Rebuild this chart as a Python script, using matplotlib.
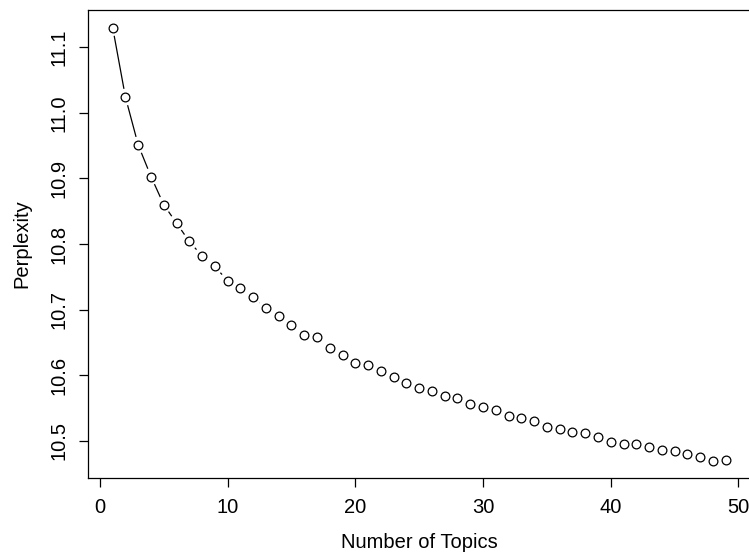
import numpy as np
import matplotlib
matplotlib.use("Agg")
import matplotlib.pyplot as plt

# Perplexity of the fitted topic models by number of topics
topics = list(range(1, 50))
perplexity = [
    11.130, 11.024, 10.951, 10.903, 10.860, 10.832, 10.804, 10.782, 10.766, 10.744,
    10.733, 10.719, 10.702, 10.691, 10.677, 10.662, 10.658, 10.642, 10.631, 10.619,
    10.616, 10.607, 10.597, 10.589, 10.581, 10.576, 10.569, 10.566, 10.557, 10.552,
    10.547, 10.538, 10.535, 10.531, 10.522, 10.518, 10.514, 10.512, 10.506, 10.499,
    10.496, 10.496, 10.491, 10.487, 10.485, 10.480, 10.476, 10.470, 10.471,
]
x_ticks = [0, 10, 20, 30, 40, 50]
y_ticks = [10.5, 10.6, 10.7, 10.8, 10.9, 11.0, 11.1]
x_label = "Number of Topics"
y_label = "Perplexity"

plt.rcParams["font.family"] = ["Liberation Sans", "DejaVu Sans"]
FS = 14.5

W, H, DPI = 749, 555, 100
fig = plt.figure(figsize=(W / DPI, H / DPI), dpi=DPI)

# axis ranges padded by 4% like base graphics
x = np.asarray(topics, dtype=float)
y = np.asarray(perplexity, dtype=float)
xr = x.max() - x.min()
yr = y.max() - y.min()
xlim = (x.min() - 0.04 * xr, x.max() + 0.04 * xr)
ylim = (y.min() - 0.04 * yr, y.max() + 0.04 * yr)

left_px, right_px = 88.15, 750.2
top_px, bottom_px = 10.2, 478.0
ax = fig.add_axes([left_px / W, (H - bottom_px) / H,
                   (right_px - left_px) / W, (bottom_px - top_px) / H])
ax.set_xlim(*xlim)
ax.set_ylim(*ylim)

# points
ax.plot(x, y, linestyle="none", marker="o", markersize=6.3,
        markerfacecolor="white", markeredgecolor="black",
        markeredgewidth=0.9, zorder=3)

# connecting segments with gaps around each point
fig.canvas.draw()
to_disp = ax.transData
to_data = ax.transData.inverted()
gap = 8.4  # pixels
pts = to_disp.transform(np.column_stack([x, y]))
for (x0, y0), (x1, y1) in zip(pts[:-1], pts[1:]):
    d = np.hypot(x1 - x0, y1 - y0)
    if d <= 2 * gap:
        continue
    ux, uy = (x1 - x0) / d, (y1 - y0) / d
    a = to_data.transform([x0 + ux * gap, y0 + uy * gap])
    b = to_data.transform([x1 - ux * gap, y1 - uy * gap])
    ax.plot([a[0], b[0]], [a[1], b[1]], color="black", linewidth=0.9,
            solid_capstyle="butt", zorder=2)

ax.set_xticks(x_ticks)
ax.set_xticklabels([str(t) for t in x_ticks])
ax.set_yticks(y_ticks)
ax.set_yticklabels([f"{t:.1f}" for t in y_ticks], rotation=90, va="center")

ax.tick_params(axis="both", direction="out", length=6.2, width=0.9,
               labelsize=FS, color="black")
ax.tick_params(axis="x", pad=8)
ax.tick_params(axis="y", pad=8)

for s in ax.spines.values():
    s.set_linewidth(0.9)
    s.set_color("black")

ax.set_xlabel(x_label, fontsize=FS, labelpad=11.5)
ax.set_ylabel(y_label, fontsize=FS, labelpad=13)

fig.savefig("out.png", dpi=DPI)
